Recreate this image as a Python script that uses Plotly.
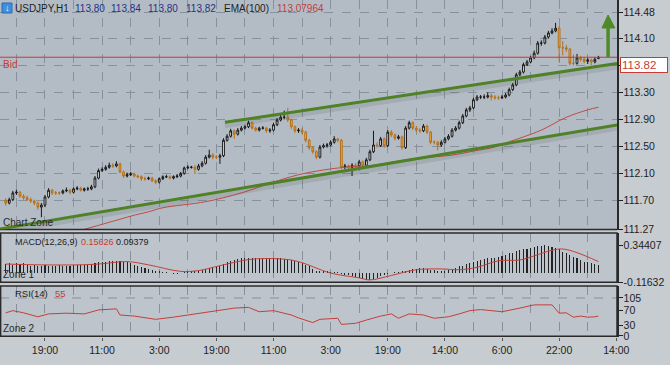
import plotly.graph_objects as go
from plotly.subplots import make_subplots

# ---------------- data (USDJPY H1) ----------------
opens = [
    111.70, 111.66, 111.71, 111.81, 111.82, 111.76, 111.74, 111.71, 111.69, 111.66,
    111.60, 111.63, 111.75, 111.85, 111.81, 111.81, 111.81, 111.84, 111.85, 111.82,
    111.87, 111.88, 111.85, 111.87, 111.87, 111.90, 112.03, 112.14, 112.16, 112.19,
    112.22, 112.21, 112.24, 112.12, 112.06, 112.08, 112.09, 112.06, 112.05, 112.02,
    112.02, 112.03, 111.99, 111.97, 112.02, 112.05, 112.05, 112.03, 112.05, 112.06,
    112.10, 112.18, 112.19, 112.19, 112.16, 112.21, 112.25, 112.34, 112.37, 112.34,
    112.34, 112.36, 112.59, 112.65, 112.73, 112.68, 112.74, 112.77, 112.79, 112.85,
    112.77, 112.74, 112.77, 112.77, 112.73, 112.74, 112.82, 112.89, 112.93, 112.93,
    112.89, 112.79, 112.73, 112.74, 112.71, 112.59, 112.48, 112.42, 112.34, 112.49,
    112.51, 112.52, 112.56, 112.61, 112.59, 112.19, 112.21, 112.19, 112.22, 112.21,
    112.27, 112.22, 112.30, 112.42, 112.52, 112.51, 112.61, 112.51, 112.71, 112.67,
    112.62, 112.64, 112.48, 112.77, 112.85, 112.77, 112.74, 112.73, 112.80, 112.71,
    112.56, 112.56, 112.52, 112.56, 112.61, 112.65, 112.74, 112.77, 112.85, 112.95,
    113.04, 113.07, 113.19, 113.23, 113.23, 113.23, 113.25, 113.23, 113.22, 113.22,
    113.23, 113.26, 113.34, 113.41, 113.56, 113.60, 113.71, 113.75, 113.81, 113.88,
    114.03, 114.03, 114.12, 114.18, 114.21, 114.25, 113.96, 113.96, 113.94, 113.73,
    113.73, 113.81, 113.79, 113.76, 113.78, 113.75, 113.80]
highs = [
    111.73, 111.74, 111.84, 111.86, 111.84, 111.79, 111.77, 111.74, 111.71, 111.68,
    111.66, 111.78, 111.88, 111.87, 111.84, 111.83, 111.86, 111.89, 111.87, 111.89,
    111.91, 111.90, 111.89, 111.90, 111.93, 112.06, 112.17, 112.19, 112.22, 112.26,
    112.25, 112.28, 112.26, 112.14, 112.11, 112.12, 112.11, 112.08, 112.07, 112.05,
    112.05, 112.05, 112.01, 112.04, 112.07, 112.08, 112.07, 112.07, 112.09, 112.12,
    112.20, 112.22, 112.21, 112.22, 112.24, 112.28, 112.37, 112.45, 112.40, 112.37,
    112.39, 112.62, 112.68, 112.76, 112.75, 112.77, 112.80, 112.82, 112.88, 112.87,
    112.79, 112.79, 112.80, 112.79, 112.77, 112.85, 112.92, 112.97, 113.03, 113.07,
    112.91, 112.81, 112.77, 112.77, 112.73, 112.61, 112.50, 112.44, 112.52, 112.54,
    112.55, 112.59, 112.65, 112.62, 112.61, 112.24, 112.23, 112.25, 112.25, 112.30,
    112.29, 112.33, 112.45, 112.73, 112.56, 112.64, 112.63, 112.74, 112.74, 112.69,
    112.67, 112.66, 112.80, 112.88, 112.87, 112.80, 112.77, 112.83, 112.82, 112.73,
    112.59, 112.58, 112.59, 112.64, 112.68, 112.77, 112.80, 112.88, 112.98, 113.07,
    113.10, 113.22, 113.26, 113.26, 113.27, 113.30, 113.28, 113.26, 113.25, 113.26,
    113.29, 113.37, 113.44, 113.59, 113.63, 113.74, 113.78, 113.84, 113.92, 114.06,
    114.07, 114.15, 114.21, 114.25, 114.33, 114.28, 114.06, 114.00, 113.96, 113.86,
    113.87, 113.84, 113.82, 113.81, 113.80, 113.82, 113.84]
lows = [
    111.62, 111.64, 111.69, 111.78, 111.74, 111.71, 111.69, 111.66, 111.63, 111.56,
    111.45, 111.60, 111.73, 111.78, 111.78, 111.78, 111.79, 111.82, 111.79, 111.80,
    111.85, 111.83, 111.83, 111.84, 111.85, 111.88, 112.01, 112.12, 112.14, 112.17,
    112.18, 112.19, 112.10, 112.03, 112.04, 112.06, 112.04, 112.03, 111.99, 111.99,
    112.00, 111.97, 111.94, 111.95, 112.00, 112.03, 112.01, 112.01, 112.03, 112.04,
    112.08, 112.16, 112.17, 112.09, 112.14, 112.19, 112.23, 112.32, 112.31, 112.31,
    112.24, 112.34, 112.57, 112.63, 112.61, 112.66, 112.72, 112.75, 112.77, 112.75,
    112.72, 112.72, 112.75, 112.70, 112.70, 112.72, 112.80, 112.87, 112.90, 112.86,
    112.76, 112.70, 112.70, 112.68, 112.56, 112.45, 112.39, 112.31, 112.32, 112.47,
    112.48, 112.50, 112.54, 112.56, 112.16, 112.16, 112.15, 112.06, 112.18, 112.19,
    112.19, 112.20, 112.28, 112.40, 112.48, 112.49, 112.48, 112.49, 112.64, 112.59,
    112.60, 112.45, 112.46, 112.75, 112.74, 112.71, 112.70, 112.71, 112.68, 112.53,
    112.53, 112.44, 112.49, 112.54, 112.59, 112.63, 112.72, 112.75, 112.83, 112.93,
    113.01, 113.05, 113.17, 113.20, 113.20, 113.21, 113.18, 113.19, 113.19, 113.20,
    113.21, 113.24, 113.32, 113.39, 113.54, 113.58, 113.69, 113.73, 113.79, 113.86,
    113.99, 114.01, 114.10, 114.16, 114.19, 113.75, 113.85, 113.90, 113.70, 113.70,
    113.71, 113.76, 113.73, 113.72, 113.70, 113.73, 113.80]
closes = [
    111.66, 111.71, 111.81, 111.82, 111.76, 111.74, 111.71, 111.69, 111.66, 111.60,
    111.63, 111.75, 111.85, 111.81, 111.81, 111.81, 111.84, 111.85, 111.82, 111.87,
    111.88, 111.85, 111.87, 111.87, 111.90, 112.03, 112.14, 112.16, 112.19, 112.22,
    112.21, 112.24, 112.12, 112.06, 112.08, 112.09, 112.06, 112.05, 112.02, 112.02,
    112.03, 111.99, 111.97, 112.02, 112.05, 112.05, 112.03, 112.05, 112.06, 112.10,
    112.18, 112.19, 112.19, 112.16, 112.21, 112.25, 112.34, 112.37, 112.34, 112.34,
    112.36, 112.59, 112.65, 112.73, 112.68, 112.74, 112.77, 112.79, 112.85, 112.77,
    112.74, 112.77, 112.77, 112.73, 112.74, 112.82, 112.89, 112.93, 112.93, 112.89,
    112.79, 112.73, 112.74, 112.71, 112.59, 112.48, 112.42, 112.34, 112.49, 112.51,
    112.52, 112.56, 112.61, 112.59, 112.19, 112.21, 112.19, 112.22, 112.21, 112.27,
    112.22, 112.30, 112.42, 112.52, 112.51, 112.61, 112.51, 112.71, 112.67, 112.62,
    112.64, 112.48, 112.77, 112.85, 112.77, 112.74, 112.73, 112.80, 112.71, 112.56,
    112.56, 112.52, 112.56, 112.61, 112.65, 112.74, 112.77, 112.85, 112.95, 113.04,
    113.07, 113.19, 113.23, 113.23, 113.23, 113.25, 113.23, 113.22, 113.22, 113.23,
    113.26, 113.34, 113.41, 113.56, 113.60, 113.71, 113.75, 113.81, 113.88, 114.03,
    114.03, 114.12, 114.18, 114.21, 114.25, 113.96, 113.96, 113.94, 113.73, 113.73,
    113.81, 113.79, 113.76, 113.78, 113.75, 113.79, 113.82]

# EMA(100) sampled along the bars (bar index, value)
ema_idx = [22, 26, 32, 36, 40, 44, 56, 66, 75, 82, 89, 95, 103, 112, 119, 125,
           131, 137, 140, 145, 150, 157, 163, 166]
ema_val = [111.27, 111.33, 111.42, 111.48, 111.53, 111.59, 111.68, 111.81, 111.97,
           112.08, 112.15, 112.19, 112.22, 112.30, 112.34, 112.37, 112.43, 112.49,
           112.55, 112.64, 112.74, 112.93, 113.04, 113.08]

# MACD(12,26,9) histogram, one value per bar
macd_hist = [
    0.11, 0.12, 0.10, 0.12, 0.11, 0.12, 0.10, 0.09, 0.10, 0.09,
    0.09, 0.10, 0.09, 0.09, 0.09, 0.10, 0.09, 0.09, 0.09, 0.10,
    0.10, 0.10, 0.10, 0.10, 0.11, 0.12, 0.13, 0.14, 0.14, 0.15,
    0.15, 0.15, 0.15, 0.14, 0.13, 0.12, 0.10, 0.09, 0.07, 0.06,
    0.05, 0.04, 0.03, 0.02, 0.01, 0.01, 0.00, -0.01, -0.01, 0.00,
    0.01, 0.02, 0.02, 0.03, 0.03, 0.04, 0.05, 0.06, 0.07, 0.08,
    0.09, 0.11, 0.13, 0.15, 0.16, 0.17, 0.18, 0.18, 0.19, 0.18,
    0.18, 0.18, 0.18, 0.18, 0.18, 0.18, 0.18, 0.18, 0.17, 0.17,
    0.16, 0.15, 0.14, 0.12, 0.10, 0.08, 0.05, 0.03, 0.02, 0.02,
    0.02, 0.01, 0.01, 0.01, -0.01, -0.02, -0.03, -0.04, -0.05, -0.06,
    -0.07, -0.08, -0.08, -0.07, -0.06, -0.04, -0.02, -0.01, 0.00, 0.01,
    0.01, 0.02, 0.03, 0.04, 0.05, 0.05, 0.06, 0.06, 0.05, 0.04,
    0.04, 0.03, 0.03, 0.03, 0.04, 0.05, 0.06, 0.08, 0.09, 0.11,
    0.12, 0.14, 0.15, 0.16, 0.17, 0.18, 0.18, 0.19, 0.20, 0.21,
    0.22, 0.24, 0.25, 0.27, 0.28, 0.29, 0.30, 0.31, 0.32, 0.33,
    0.33, 0.34, 0.33, 0.32, 0.31, 0.29, 0.26, 0.24, 0.22, 0.20,
    0.18, 0.16, 0.14, 0.13, 0.12, 0.11, 0.10]
# MACD signal line (bar index, value)
sig_idx = [0, 10, 20, 26, 34, 40, 49, 54, 60, 69, 78, 82, 91, 99, 102, 108, 115,
           122, 127, 132, 138, 144, 148, 153, 156, 160, 166]
sig_val = [0.11, 0.10, 0.10, 0.11, 0.14, 0.10, 0.02, 0.03, 0.09, 0.17, 0.17, 0.14,
           0.00, -0.06, -0.085, -0.03, 0.04, 0.05, 0.04, 0.07, 0.15, 0.16, 0.21,
           0.28, 0.295, 0.25, 0.14]

# RSI(14) (bar index, value)
rsi_idx = [0, 2, 5, 9, 12, 17, 22, 24, 26, 31, 32, 36, 40, 42, 47, 51, 54, 59, 64,
           68, 71, 75, 80, 82, 86, 88, 93, 94, 98, 101, 105, 108, 110, 113, 117,
           120, 124, 127, 130, 133, 139, 144, 148, 153, 155, 157, 159, 161, 163,
           165, 166]
rsi_val = [64, 70, 64, 53, 61, 63, 61, 67, 72, 75, 58, 55, 49, 46, 52, 58, 61, 70,
           77, 79, 67, 70, 58, 50, 37, 46, 49, 32, 35, 44, 55, 61, 49, 61, 58, 49,
           53, 61, 70, 73, 67, 77, 86, 86, 63, 64, 52, 55, 52, 53, 55]

# time axis labels (bar index of each label)
time_ticks = [11, 27, 43, 59, 75, 91, 107, 123, 139, 155, 171]
time_labels = ["19:00", "11:00", "3:00", "19:00", "11:00", "3:00", "19:00",
               "14:00", "6:00", "22:00", "14:00"]
half_ticks = [3, 19, 35, 51, 67, 83, 99, 115, 131, 147, 163]

price_ticks = [111.27, 111.70, 112.10, 112.50, 112.90, 113.30, 113.70, 114.10, 114.48]
price_labels = ["111.27", "111.70", "112.10", "112.50", "112.90", "113.30", "", "114.10", "114.48"]
macd_ticks = [-0.11632, 0.34407]
macd_labels = ["-0.11632", "0.34407"]
rsi_ticks = [0, 30, 70, 105]

bid = 113.82
# hand-drawn trend lines: (bar, price) endpoints
upper_line = [(61.4, 112.856), (171.2, 113.727)]
lower_line = [(-1.6, 111.276), (171.2, 112.817)]
arrow_bar = 168.7
arrow_base, arrow_neck, arrow_tip = 113.82, 114.253, 114.446

# ---------------- figure ----------------
bars = list(range(len(closes)))
fig = make_subplots(rows=3, cols=1, shared_xaxes=True, vertical_spacing=0.01)

fig.add_trace(go.Candlestick(
    x=bars, open=opens, high=highs, low=lows, close=closes,
    increasing=dict(line=dict(color="#151515", width=1), fillcolor="#ffffff"),
    decreasing=dict(line=dict(color="#b5701a", width=1), fillcolor="#f4a73c"),
    showlegend=False, hoverinfo="skip"), row=1, col=1)
fig.add_trace(go.Scatter(x=ema_idx, y=ema_val, mode="lines",
                         line=dict(color="#c24a45", width=1, shape="spline"),
                         showlegend=False, hoverinfo="skip"), row=1, col=1)
fig.add_trace(go.Bar(x=bars, y=macd_hist, width=0.3,
                     marker=dict(color="#222222", line=dict(width=0)),
                     showlegend=False, hoverinfo="skip"), row=2, col=1)
fig.add_trace(go.Scatter(x=sig_idx, y=sig_val, mode="lines",
                         line=dict(color="#c2403a", width=1, shape="spline"),
                         showlegend=False, hoverinfo="skip"), row=2, col=1)
fig.add_trace(go.Scatter(x=rsi_idx, y=rsi_val, mode="lines",
                         line=dict(color="#c2403a", width=1),
                         showlegend=False, hoverinfo="skip"), row=3, col=1)

H = 337.0  # plot area height in px (365 - bottom margin)
def py(p):
    return 1 - p / H

main_dom = [py(229.5), 1.0]
macd_dom = [py(283), py(233)]
rsi_dom = [0.0, py(286)]

grid = "#87919b"
font_fam = "Liberation Sans, Arial, sans-serif"
tick_font = dict(family=font_fam, size=10.5, color="#1e1e1e")
xcommon = dict(range=[-1.6, 171.2], tickmode="array", tickvals=time_ticks,
               showgrid=True, gridcolor=grid, griddash="dash", gridwidth=1,
               minor=dict(tickvals=half_ticks, showgrid=True, gridcolor=grid,
                          griddash="dash", gridwidth=1),
               zeroline=False, showline=False, rangeslider=dict(visible=False))
ycommon = dict(side="right", tickmode="array", ticks="outside", ticklen=4,
               tickcolor="#222222", zeroline=False, showline=True,
               linecolor="#2a2a2a", linewidth=1.5, tickfont=tick_font,
               ticklabelstandoff=-1)
fig.update_layout(
    xaxis=dict(**xcommon, showticklabels=False),
    xaxis2=dict(**xcommon, showticklabels=False),
    xaxis3=dict(**xcommon, ticktext=time_labels, showticklabels=True,
                ticks="outside", ticklen=3, tickcolor="#555555",
                tickfont=tick_font),
    yaxis=dict(**ycommon, domain=main_dom, range=[111.268, 114.668],
               tickvals=price_ticks, ticktext=price_labels,
               showgrid=True, gridcolor=grid, griddash="dash"),
    yaxis2=dict(**ycommon, domain=macd_dom, range=[-0.1229, 0.4916],
                tickvals=macd_ticks, ticktext=macd_labels, showgrid=False),
    yaxis3=dict(**ycommon, domain=rsi_dom, range=[-2.8, 138.1],
                tickvals=rsi_ticks, showgrid=False),
    width=670, height=365,
    margin=dict(l=0, r=53, t=0, b=28),
    paper_bgcolor="#c7ccd1", plot_bgcolor="rgba(0,0,0,0)",
    font=dict(family=font_fam, size=10, color="#1e1e1e"),
    bargap=0, hovermode=False,
)

shapes = []
# panel backgrounds
shapes.append(dict(type="rect", xref="paper", yref="paper", x0=0, x1=1,
                   y0=main_dom[0], y1=1, fillcolor="#b3bcc5", line=dict(width=0), layer="below"))
shapes.append(dict(type="rect", xref="paper", yref="paper", x0=0, x1=1,
                   y0=macd_dom[0], y1=macd_dom[1], fillcolor="#bdc4cb", line=dict(width=0), layer="below"))
shapes.append(dict(type="rect", xref="paper", yref="paper", x0=0, x1=1,
                   y0=rsi_dom[0], y1=rsi_dom[1], fillcolor="#bdc4cb", line=dict(width=0), layer="below"))
# RSI 105 level
shapes.append(dict(type="line", xref="paper", yref="y3", x0=0, x1=1, y0=105, y1=105,
                   line=dict(color=grid, width=1, dash="dash"), layer="below"))
# panel borders
shapes.append(dict(type="line", xref="paper", yref="paper", x0=0, x1=1,
                   y0=main_dom[0], y1=main_dom[0], line=dict(color="#2a2a2a", width=1.5)))
for dom in (macd_dom, rsi_dom):
    shapes.append(dict(type="rect", xref="paper", yref="paper", x0=0.001, x1=1,
                       y0=dom[0] + 0.002, y1=dom[1], line=dict(color="#2a2a2a", width=1.5)))
# bid line
shapes.append(dict(type="line", xref="paper", yref="y", x0=0, x1=1, y0=bid, y1=bid,
                   line=dict(color="#c83a34", width=1)))
# trend line shadows and trend lines
for (a, b) in (upper_line, lower_line):
    shapes.append(dict(type="line", xref="x", yref="y", x0=a[0], y0=a[1] - 0.05,
                       x1=b[0], y1=b[1] - 0.05,
                       line=dict(color="rgba(70,70,70,0.14)", width=5)))
for (a, b) in (upper_line, lower_line):
    shapes.append(dict(type="line", xref="x", yref="y", x0=a[0], y0=a[1],
                       x1=b[0], y1=b[1], line=dict(color="#4f8126", width=3)))
# green arrow
shapes.append(dict(type="line", xref="x", yref="y", x0=arrow_bar, x1=arrow_bar,
                   y0=arrow_base, y1=arrow_neck, line=dict(color="#4f8a28", width=3.5)))
shapes.append(dict(type="path", xref="x", yref="y",
                   path=f"M {arrow_bar - 1.7},{arrow_neck} L {arrow_bar + 1.9},{arrow_neck} "
                        f"L {arrow_bar},{arrow_tip} Z",
                   fillcolor="#4f8a28", line=dict(color="#4f8a28", width=1)))
# header icon
shapes.append(dict(type="rect", xref="paper", yref="paper", x0=2 / 617, x1=12 / 617,
                   y0=py(13), y1=py(3), fillcolor="#3f8fdc", line=dict(color="#2a6cb0", width=1)))
fig.update_layout(shapes=shapes)

def txt(text, px, pyy, color="#1e1e1e", size=10):
    fig.add_annotation(text=text, x=px / 617, y=py(pyy), xref="paper", yref="paper",
                       xanchor="left", yanchor="middle", showarrow=False,
                       font=dict(family=font_fam, size=size, color=color))

fig.add_annotation(text="<b>↓</b>", x=7 / 617, y=py(8), xref="paper", yref="paper",
                   xanchor="center", yanchor="middle", showarrow=False,
                   font=dict(family=font_fam, size=9, color="#ffffff"))
blue = "#27308a"
txt("USDJPY,H1", 13, 8)
txt("113.80", 73, 8, blue)
txt("113.84", 109, 8, blue)
txt("113.80", 146, 8, blue)
txt("113.82", 184, 8, blue)
txt("EMA(100)", 222, 8)
txt("113.07964", 275, 8, "#c83a34")
txt("Bid", 1, 64, "#c83a34")
txt("Chart Zone", 1, 222, "#2a2a2a")
txt("MACD(12,26,9)", 13, 242, size=9)
txt("0.15626", 79, 242, "#c83a34", size=9)
txt("0.09379", 114, 242, size=9)
txt("Zone 1", 1, 274, "#2a2a2a")
txt("RSI(14)", 13, 293, size=9.5)
txt("55", 53, 293, "#c83a34", size=9.5)
txt("Zone 2", 1, 328, "#2a2a2a")

# current price box
fig.add_annotation(text="113.82", x=620 / 617, y=bid, xref="paper", yref="y",
                   xanchor="left", yanchor="top", showarrow=False, align="left",
                   width=44, bgcolor="#ffffff", bordercolor="#c83a34", borderwidth=1,
                   borderpad=1, font=dict(family=font_fam, size=11.5, color="#c83a34"))

fig.write_html("out.html",
               config={"displayModeBar": False, "staticPlot": True},
               post_script="document.body.style.margin='0';document.body.style.padding='0';"
                           "document.body.style.overflow='hidden';")
